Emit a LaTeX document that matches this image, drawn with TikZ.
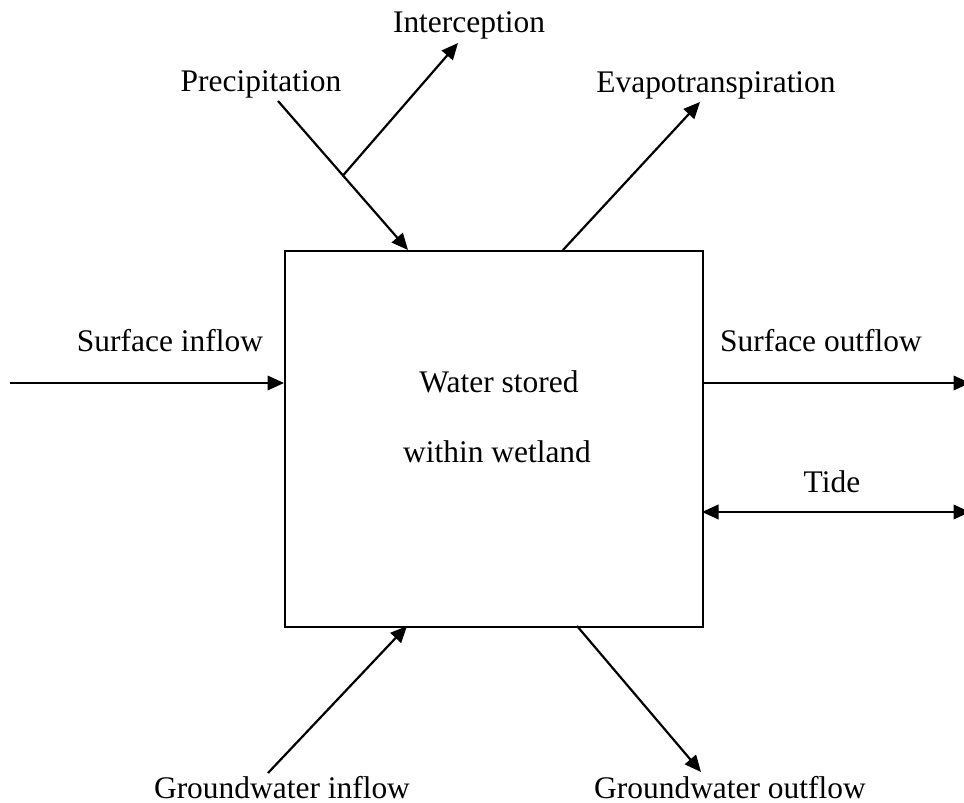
\documentclass[tikz,border=0pt]{standalone}
\usepackage{fontspec}
\setmainfont{Liberation Serif}
\usetikzlibrary{arrows.meta}

\tikzset{
  flow/.style={line width=1.25pt},
  lbl/.style={anchor=base,inner sep=0pt,font=\fontsize{17.9pt}{21pt}\selectfont},
}

\begin{document}
\begin{tikzpicture}[x=0.02cm,y=-0.02cm,>={Triangle[length=0.33cm,width=0.29cm]}]
        \useasboundingbox (0,0) rectangle (964,803);

        \node[draw,line width=0.9pt,anchor=north west,inner sep=0pt,minimum width=8.36cm,minimum height=7.52cm](store)at(284,250){};
        \node[lbl](water)at(499,393){Water stored};
        \node[lbl](within)at(497,463){within wetland};

        \node[lbl](intercept)at(469,33){Interception};
        \node[lbl](precip)at(261,92){Precipitation};
        \node[lbl](evapo)at(716,93){Evapotranspiration};
        \node[lbl](surfin)at(170,352){Surface inflow};
        \node[lbl](surfout)at(821,352){Surface outflow};
        \node[lbl](tide)at(832,493){Tide};
        \node[lbl](gwin)at(282,798){Groundwater inflow};
        \node[lbl](gwout)at(730,798){Groundwater outflow};

        \coordinate(rainA)at(278,101);
        \coordinate(rainB)at(408,250);
        \coordinate(catch)at(458,43);
        \coordinate(evapA)at(563,250);
        \coordinate(evapB)at(700,102);
        \coordinate(inA)at(10,383);
        \coordinate(inB)at(284,383);
        \coordinate(outA)at(702,383);
        \coordinate(outB)at(970,383);
        \coordinate(tideA)at(702,512);
        \coordinate(tideB)at(970,512);
        \coordinate(gwinA)at(268,773);
        \coordinate(gwinB)at(407,626);
        \coordinate(gwoutA)at(577,626);
        \coordinate(gwoutB)at(701,772);

        \draw[->,flow](rainA)--coordinate[pos=0.5](split)(rainB);
        \draw[->,flow](split)--(catch);
        \draw[->,flow](evapA)--(evapB);
        \draw[->,flow](inA)--(inB);
        \draw[->,flow](outA)--(outB);
        \draw[<->,flow](tideA)--(tideB);
        \draw[->,flow](gwinA)--(gwinB);
        \draw[->,flow](gwoutA)--(gwoutB);
    \end{tikzpicture}
\end{document}
